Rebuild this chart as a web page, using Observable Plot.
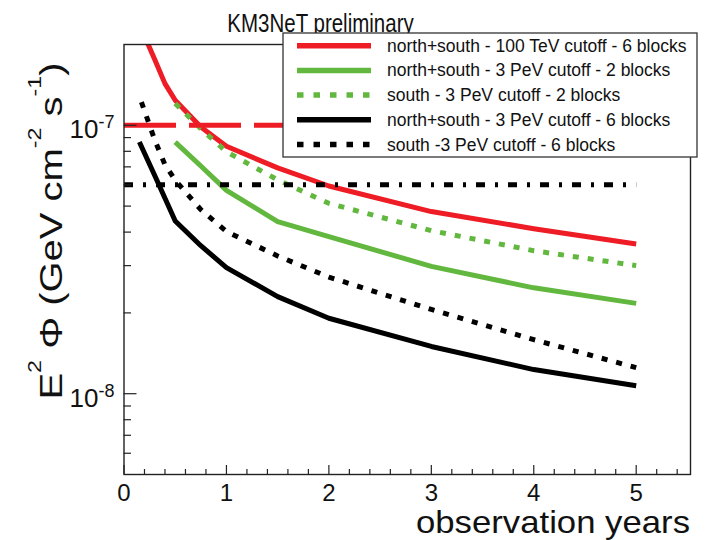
<!DOCTYPE html>
<html>
<head>
<meta charset="utf-8">
<script src="https://cdn.jsdelivr.net/npm/d3@7"></script>
<script src="https://cdn.jsdelivr.net/npm/@observablehq/plot@0.6"></script>
<style>
  html, body { margin: 0; padding: 0; background: #fff; }
  #chart { width: 706px; height: 540px; }
  svg text { font-family: "Liberation Sans", Arial, Helvetica, sans-serif; }
</style>
</head>
<body>
<div id="chart"></div>
<script>
// Discovery flux E^2 Φ (GeV cm^-2 s^-1) versus observation time (years)

// north+south - 100 TeV cutoff - 6 blocks
const nsTeV6Years = [0.2, 0.3, 0.4, 0.5, 0.75, 1, 1.5, 2, 3, 4, 5];
const nsTeV6Flux  = [2.15e-7, 1.76e-7, 1.43e-7, 1.24e-7, 9.85e-8, 8.35e-8, 6.94e-8, 5.94e-8, 4.77e-8, 4.12e-8, 3.61e-8];

// north+south - 3 PeV cutoff - 2 blocks
const nsPeV2Years = [0.5, 0.75, 1, 1.5, 2, 3, 4, 5];
const nsPeV2Flux  = [8.66e-8, 7.05e-8, 5.72e-8, 4.38e-8, 3.85e-8, 2.98e-8, 2.48e-8, 2.17e-8];

// south - 3 PeV cutoff - 2 blocks
const sPeV2Years = [0.5, 0.75, 1, 1.5, 2, 3, 4, 5];
const sPeV2Flux  = [1.205e-7, 9.71e-8, 7.97e-8, 6.26e-8, 5.12e-8, 4.05e-8, 3.41e-8, 3.0e-8];

// north+south - 3 PeV cutoff - 6 blocks
const nsPeV6Years = [0.15, 0.3, 0.5, 0.75, 1, 1.5, 2, 3, 4, 5];
const nsPeV6Flux  = [8.66e-8, 6.5e-8, 4.4e-8, 3.56e-8, 2.95e-8, 2.3e-8, 1.91e-8, 1.5e-8, 1.23e-8, 1.07e-8];

// south - 3 PeV cutoff - 6 blocks
const sPeV6Years = [0.17, 0.3, 0.4, 0.5, 0.75, 1, 1.5, 2, 3, 4, 5];
const sPeV6Flux  = [1.22e-7, 8.82e-8, 7.13e-8, 6.24e-8, 4.85e-8, 4.02e-8, 3.26e-8, 2.72e-8, 2.06e-8, 1.59e-8, 1.25e-8];

// horizontal reference flux levels (red dashed, black dash-dot)
const refYears = [0, 5];
const refRedFlux = 1e-7;
const refBlackFlux = 6e-8;

// axis ticks
const xMajorTicks = [0, 1, 2, 3, 4, 5];
const xMinorTicks = [0.2, 0.4, 0.6, 0.8, 1.2, 1.4, 1.6, 1.8, 2.2, 2.4, 2.6, 2.8, 3.2, 3.4, 3.6, 3.8, 4.2, 4.4, 4.6, 4.8, 5.2, 5.4];
const yMajorTicks = [1e-8, 1e-7];
const yMinorTicks = [6e-9, 7e-9, 8e-9, 9e-9, 2e-8, 3e-8, 4e-8, 5e-8, 6e-8, 7e-8, 8e-8, 9e-8];

const RED = "#ee1c25", GREEN = "#62b83e", BLACK = "#000";

const series = [
  {label: "north+south - 100 TeV cutoff - 6 blocks", years: nsTeV6Years, flux: nsTeV6Flux, stroke: RED, dash: null},
  {label: "north+south - 3 PeV cutoff - 2 blocks",   years: nsPeV2Years, flux: nsPeV2Flux, stroke: GREEN, dash: null},
  {label: "south - 3 PeV cutoff - 2 blocks",         years: sPeV2Years,  flux: sPeV2Flux,  stroke: GREEN, dash: "6,9"},
  {label: "north+south - 3 PeV cutoff - 6 blocks",   years: nsPeV6Years, flux: nsPeV6Flux, stroke: BLACK, dash: null},
  {label: "south -3 PeV cutoff - 6 blocks",          years: sPeV6Years,  flux: sPeV6Flux,  stroke: BLACK, dash: "6,9"}
];

const W = 706, H = 540;
const mL = 123.5, mR = 16, mT = 44, mB = 66;
const innerW = W - mL - mR, innerH = H - mT - mB;

const curveMarks = series.map(s =>
  Plot.line(s.years.map((t, i) => ({t, f: s.flux[i]})), {
    x: "t", y: "f", stroke: s.stroke, strokeWidth: 5,
    strokeDasharray: s.dash, strokeLinecap: "butt", strokeLinejoin: "round", clip: true
  })
);

const refRed = refYears.map(t => ({t, f: refRedFlux}));
const refBlack = refYears.map(t => ({t, f: refBlackFlux}));

const plot = Plot.plot({
  width: W, height: H,
  marginLeft: mL, marginRight: mR, marginTop: mT, marginBottom: mB,
  x: {domain: [0, 5.53], axis: null},
  y: {type: "log", domain: [5e-9, 2e-7], axis: null},
  style: {background: "#fff", overflow: "visible"},
  marks: [
    ...curveMarks,
    Plot.line(refRed, {x: "t", y: "f", stroke: RED, strokeWidth: 5, strokeLinecap: "butt", strokeDasharray: "52,13"}),
    Plot.line(refBlack, {x: "t", y: "f", stroke: BLACK, strokeWidth: 5, strokeLinecap: "butt", strokeDasharray: "9,10,3,10"}),
    // inward ticks
    Plot.tickX(xMajorTicks, {x: d => d, stroke: "#222", strokeWidth: 1.2, insetTop: innerH - 9}),
    Plot.tickX(xMinorTicks, {x: d => d, stroke: "#222", strokeWidth: 1.2, insetTop: innerH - 5}),
    Plot.tickY(yMajorTicks, {y: d => d, stroke: "#222", strokeWidth: 1.2, insetRight: innerW - 13}),
    Plot.tickY(yMinorTicks, {y: d => d, stroke: "#222", strokeWidth: 1.2, insetRight: innerW - 7.5}),
    Plot.frame({stroke: "#222", strokeWidth: 1.4}),
    // tick labels
    Plot.text(xMajorTicks, {x: d => d, text: d => String(d), frameAnchor: "bottom", lineAnchor: "bottom",
      dy: 26, fontSize: 24, fill: "#111"}),
    Plot.text(yMajorTicks, {y: d => d, text: () => "10", frameAnchor: "left", textAnchor: "end",
      lineAnchor: "bottom", dx: -25.5, dy: 13, fontSize: 26, fill: "#111"}),
    Plot.text(yMajorTicks, {y: d => d, text: d => "-" + String(-Math.round(Math.log10(d))), frameAnchor: "left",
      textAnchor: "start", lineAnchor: "bottom", dx: -25.5, dy: 3, fontSize: 18, fill: "#111"})
  ]
});

document.getElementById("chart").appendChild(plot);
const svg = d3.select(plot);

// axis titles
svg.append("text")
  .attr("transform", "translate(690,533) scale(1.12,1)")
  .attr("text-anchor", "end")
  .attr("font-size", 31)
  .attr("fill", "#111")
  .text("observation years");

const yTitle = svg.append("text")
  .attr("transform", "translate(62,231) rotate(-90) scale(1.29,1)")
  .attr("text-anchor", "middle")
  .attr("font-size", 31)
  .attr("fill", "#111");
yTitle.append("tspan").text("E");
yTitle.append("tspan").attr("dy", -21).attr("font-size", 18).text("2");
yTitle.append("tspan").attr("dy", 21).text(" Φ (GeV cm");
yTitle.append("tspan").attr("dy", -21).attr("font-size", 18).text("-2");
yTitle.append("tspan").attr("dy", 21).text(" s");
yTitle.append("tspan").attr("dy", -21).attr("font-size", 18).text("-1");
yTitle.append("tspan").attr("dy", 21).text(")");

// title (partly covered by the legend box)
svg.append("text")
  .attr("transform", "translate(320.5,32) scale(0.82,1)")
  .attr("text-anchor", "middle")
  .attr("font-size", 25)
  .attr("fill", "#111")
  .text("KM3NeT preliminary");

// legend
const lg = svg.append("g").attr("transform", "translate(283,33)");
lg.append("rect")
  .attr("width", 414).attr("height", 124)
  .attr("fill", "#fff").attr("stroke", "#333").attr("stroke-width", 1.3);
series.forEach((s, i) => {
  const cy = 12.7 + i * 24.7;
  lg.append("line")
    .attr("x1", 14).attr("x2", 88).attr("y1", cy).attr("y2", cy)
    .attr("stroke", s.stroke).attr("stroke-width", 5.5)
    .attr("stroke-linecap", "butt")
    .attr("stroke-dasharray", s.dash ? "6.5,10" : null);
  lg.append("text")
    .attr("x", 104).attr("y", cy + 6)
    .attr("text-anchor", "start")
    .attr("font-size", 17.5).attr("fill", "#111")
    .text(s.label);
});
</script>
</body>
</html>
